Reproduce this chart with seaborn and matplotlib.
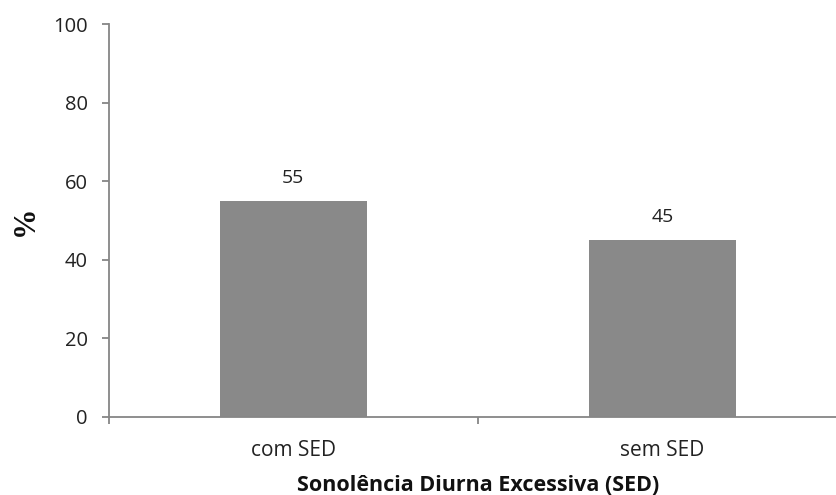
import matplotlib
matplotlib.use("Agg")
import matplotlib.pyplot as plt
import seaborn as sns
import pandas as pd

categories = ["com SED", "sem SED"]
values = [55, 45]
y_ticks = [0, 20, 40, 60, 80, 100]

df = pd.DataFrame({"grupo": categories, "pct": values})

sns.set_theme(style="white")
plt.rcParams["font.family"] = ["Open Sans", "DejaVu Sans"]

fig = plt.figure(figsize=(8.37, 4.95), dpi=100)
ax = fig.add_axes([0.130, 0.158, 0.882, 0.793])

sns.barplot(data=df, x="grupo", y="pct", color="#898989", saturation=1,
            width=0.4, ax=ax, edgecolor="none")

ax.set_xlim(-0.5, 1.5)
ax.set_ylim(0, 100)
ax.set_yticks(y_ticks)
ax.set_yticklabels([str(t) for t in y_ticks])

# category boundary ticks on the x axis
ax.set_xticks([-0.5, 0.5, 1.5])
ax.set_xticklabels([])
ax.set_xticks([0, 1], minor=True)
ax.set_xticklabels(categories, minor=True)
ax.tick_params(axis="x", which="minor", bottom=True, length=0, pad=17,
               labelsize=15, labelcolor="#222222")
ax.tick_params(axis="x", which="major", bottom=True, direction="out",
               length=5, width=1.3, color="#868686")
ax.tick_params(axis="y", left=True, direction="out", length=5, width=1.3,
               color="#868686", pad=10, labelsize=14.5, labelcolor="#222222")

for side in ["top", "right"]:
    ax.spines[side].set_visible(False)
for side in ["left", "bottom"]:
    ax.spines[side].set_color("#868686")
    ax.spines[side].set_linewidth(1.3)

for i, v in enumerate(values):
    ax.annotate(f"{v}", (i, v), xytext=(0, 10), textcoords="offset points",
                ha="center", va="bottom", fontsize=14, color="#222222")

ax.set_xlabel("Sonolência Diurna Excessiva (SED)", fontsize=15.5,
              fontweight="bold", color="#111111", labelpad=10)
ax.set_ylabel("%", fontsize=22, fontweight="bold", family="Liberation Serif",
              color="#111111", labelpad=10)

fig.savefig("out.png", dpi=100, facecolor="white")
